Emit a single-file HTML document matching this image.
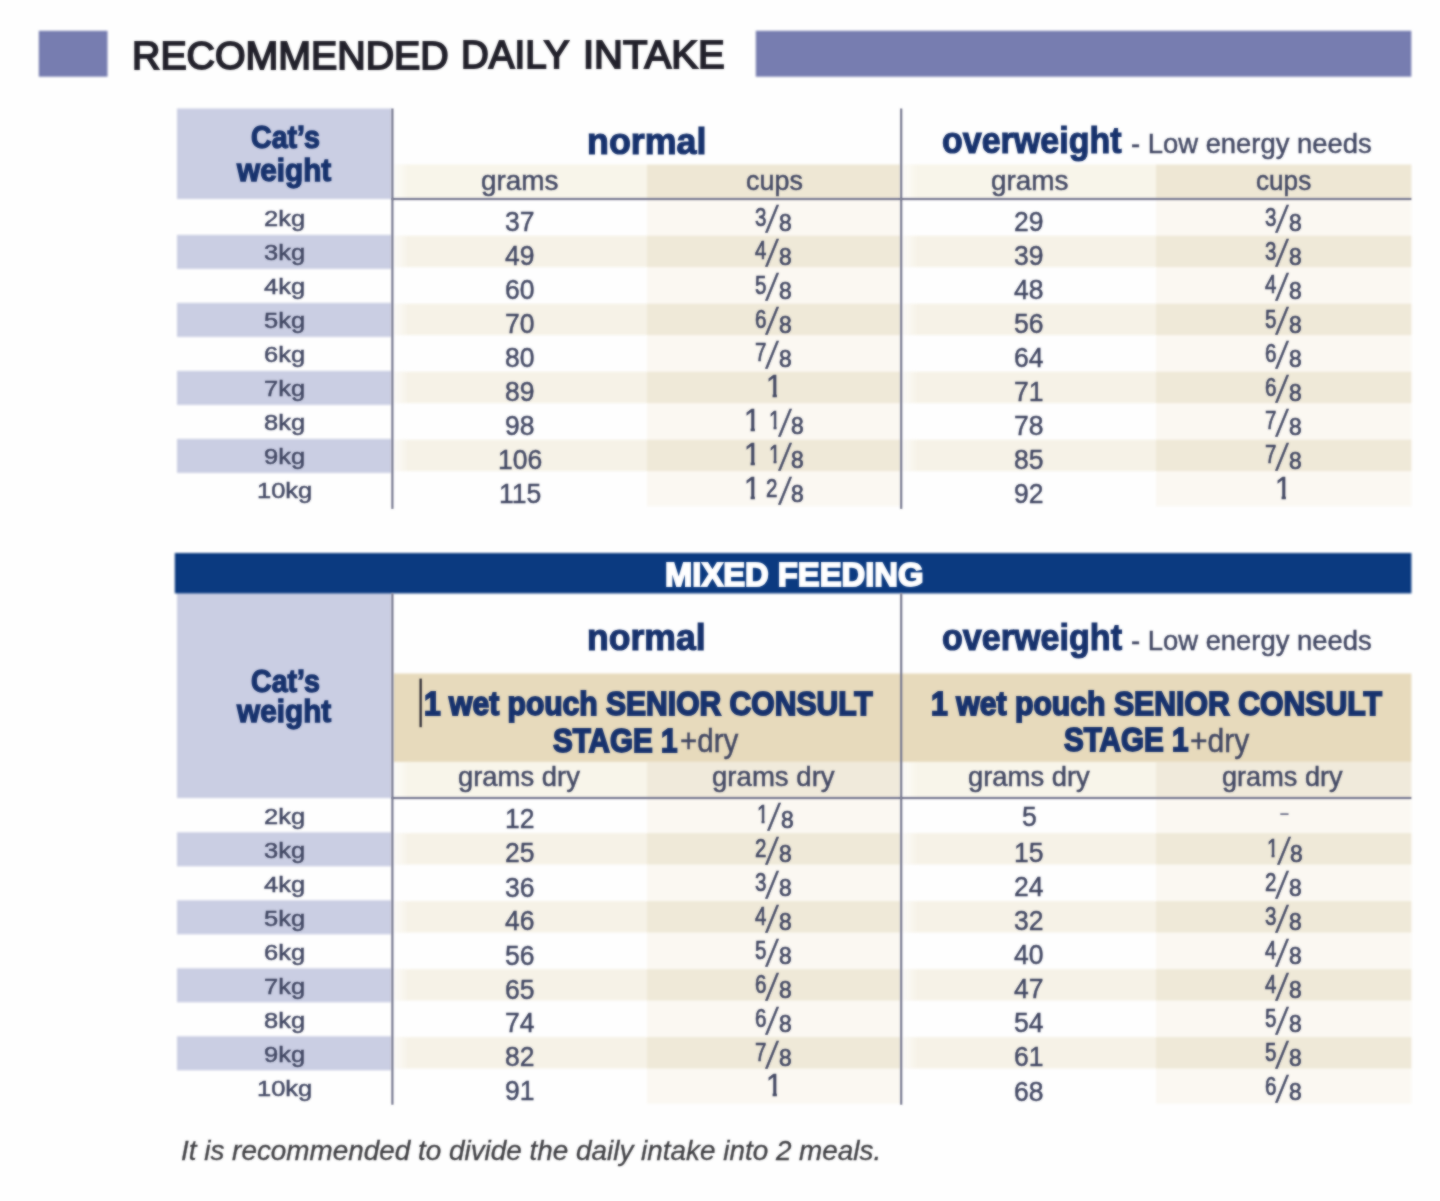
<!DOCTYPE html>
<html lang="en">
<head>
<meta charset="utf-8">
<title>Recommended daily intake</title>
<style>
*{box-sizing:border-box}
html,body{margin:0;padding:0}
body{width:1440px;height:1201px;position:relative;overflow:hidden;background:#fefefe;font-family:"Liberation Sans", sans-serif}
.bg,.ln{position:absolute;left:0;top:0;display:block}
.tx{position:absolute;left:0;top:0;width:1440px;height:1201px}
.one{clip-path:polygon(0 0,100% 0,100% 72.5%,66% 72.5%,66% 100%,40% 100%,40% 72.5%,0 72.5%)}
.t{position:absolute;white-space:nowrap;line-height:1;transform-origin:0 0;margin:0;padding:0}
.title{color:#22212b;-webkit-text-stroke:1.8px}
.h{color:#17326d;-webkit-text-stroke:1.2px}
.b{color:#3f4561;-webkit-text-stroke:0.45px}
.w{color:#fff;-webkit-text-stroke:1.9px}
.note{color:#3c3c40;-webkit-text-stroke:0.3px}
.bg{filter:blur(1px)}
.ln,.tx{filter:url(#soft)}
</style>
</head>
<body>
<svg width="0" height="0" style="position:absolute" aria-hidden="true"><defs><filter id="soft" x="0" y="0" width="100%" height="100%" filterUnits="objectBoundingBox" color-interpolation-filters="sRGB"><feGaussianBlur in="SourceGraphic" stdDeviation="1" result="b"/><feComposite in="SourceGraphic" in2="b" operator="arithmetic" k1="0" k2="0.35" k3="0.65" k4="0"/></filter></defs></svg>
<svg class="bg" width="1440" height="1201" viewBox="0 0 1440 1201" aria-hidden="true"><defs><linearGradient id="gs1" gradientUnits="userSpaceOnUse" x1="393.2" y1="0" x2="409.2" y2="0"><stop offset="0" stop-color="#f8f5ea" stop-opacity="0.25"/><stop offset="1" stop-color="#f8f5ea"/></linearGradient><linearGradient id="gs2" gradientUnits="userSpaceOnUse" x1="902" y1="0" x2="918" y2="0"><stop offset="0" stop-color="#f8f5ea" stop-opacity="0.25"/><stop offset="1" stop-color="#f8f5ea"/></linearGradient><linearGradient id="gr1" gradientUnits="userSpaceOnUse" x1="393.2" y1="0" x2="409.2" y2="0"><stop offset="0" stop-color="#f6f2e7" stop-opacity="0.25"/><stop offset="1" stop-color="#f6f2e7"/></linearGradient><linearGradient id="gr2" gradientUnits="userSpaceOnUse" x1="902" y1="0" x2="918" y2="0"><stop offset="0" stop-color="#f6f2e7" stop-opacity="0.25"/><stop offset="1" stop-color="#f6f2e7"/></linearGradient></defs><rect x="38.8" y="30.8" width="68.7" height="45.9" fill="#777db0"/><rect x="755.8" y="30.8" width="655.5" height="45.9" fill="#777db0"/><rect x="177" y="108.5" width="214.6" height="90.5" fill="#cacee3"/><rect x="393.2" y="164.5" width="253.8" height="34.5" fill="url(#gs1)"/><rect x="647" y="164.5" width="253.6" height="34.5" fill="#eee7d4"/><rect x="902" y="164.5" width="254" height="34.5" fill="url(#gs2)"/><rect x="1156" y="164.5" width="255.4" height="34.5" fill="#eee7d4"/><rect x="647" y="199" width="253.6" height="307.3" fill="#fbf8f2"/><rect x="1156" y="199" width="255.4" height="307.3" fill="#fbf8f2"/><rect x="177" y="234.9" width="214.6" height="34" fill="#cacee3"/><rect x="393.2" y="235.7" width="253.8" height="31.4" fill="url(#gr1)"/><rect x="902" y="235.7" width="254" height="31.4" fill="url(#gr2)"/><rect x="647" y="235.7" width="253.6" height="31.4" fill="#efe9d8"/><rect x="1156" y="235.7" width="255.4" height="31.4" fill="#efe9d8"/><rect x="177" y="302.9" width="214.6" height="34" fill="#cacee3"/><rect x="393.2" y="303.7" width="253.8" height="31.4" fill="url(#gr1)"/><rect x="902" y="303.7" width="254" height="31.4" fill="url(#gr2)"/><rect x="647" y="303.7" width="253.6" height="31.4" fill="#efe9d8"/><rect x="1156" y="303.7" width="255.4" height="31.4" fill="#efe9d8"/><rect x="177" y="370.9" width="214.6" height="34" fill="#cacee3"/><rect x="393.2" y="371.7" width="253.8" height="31.4" fill="url(#gr1)"/><rect x="902" y="371.7" width="254" height="31.4" fill="url(#gr2)"/><rect x="647" y="371.7" width="253.6" height="31.4" fill="#efe9d8"/><rect x="1156" y="371.7" width="255.4" height="31.4" fill="#efe9d8"/><rect x="177" y="438.9" width="214.6" height="34" fill="#cacee3"/><rect x="393.2" y="439.7" width="253.8" height="31.4" fill="url(#gr1)"/><rect x="902" y="439.7" width="254" height="31.4" fill="url(#gr2)"/><rect x="647" y="439.7" width="253.6" height="31.4" fill="#efe9d8"/><rect x="1156" y="439.7" width="255.4" height="31.4" fill="#efe9d8"/><rect x="177" y="593.2" width="214.6" height="204.8" fill="#cacee3"/><rect x="393.2" y="673.5" width="1018.2" height="88.4" fill="#e7dabc"/><rect x="393.2" y="761.9" width="253.8" height="36.1" fill="url(#gs1)"/><rect x="647" y="761.9" width="253.6" height="36.1" fill="#f0eadb"/><rect x="902" y="761.9" width="254" height="36.1" fill="url(#gs2)"/><rect x="1156" y="761.9" width="255.4" height="36.1" fill="#f0eadb"/><rect x="647" y="798" width="253.6" height="305.7" fill="#fbf8f2"/><rect x="1156" y="798" width="255.4" height="305.7" fill="#fbf8f2"/><rect x="177" y="832.3" width="214.6" height="34" fill="#cacee3"/><rect x="393.2" y="833.1" width="253.8" height="31.4" fill="url(#gr1)"/><rect x="902" y="833.1" width="254" height="31.4" fill="url(#gr2)"/><rect x="647" y="833.1" width="253.6" height="31.4" fill="#efe9d8"/><rect x="1156" y="833.1" width="255.4" height="31.4" fill="#efe9d8"/><rect x="177" y="900.3" width="214.6" height="34" fill="#cacee3"/><rect x="393.2" y="901.1" width="253.8" height="31.4" fill="url(#gr1)"/><rect x="902" y="901.1" width="254" height="31.4" fill="url(#gr2)"/><rect x="647" y="901.1" width="253.6" height="31.4" fill="#efe9d8"/><rect x="1156" y="901.1" width="255.4" height="31.4" fill="#efe9d8"/><rect x="177" y="968.3" width="214.6" height="34" fill="#cacee3"/><rect x="393.2" y="969.1" width="253.8" height="31.4" fill="url(#gr1)"/><rect x="902" y="969.1" width="254" height="31.4" fill="url(#gr2)"/><rect x="647" y="969.1" width="253.6" height="31.4" fill="#efe9d8"/><rect x="1156" y="969.1" width="255.4" height="31.4" fill="#efe9d8"/><rect x="177" y="1036.3" width="214.6" height="34" fill="#cacee3"/><rect x="393.2" y="1037.1" width="253.8" height="31.4" fill="url(#gr1)"/><rect x="902" y="1037.1" width="254" height="31.4" fill="url(#gr2)"/><rect x="647" y="1037.1" width="253.6" height="31.4" fill="#efe9d8"/><rect x="1156" y="1037.1" width="255.4" height="31.4" fill="#efe9d8"/><rect x="174.8" y="553" width="1236.6" height="40.4" fill="#0b3a80"/></svg>
<svg class="ln" width="1440" height="1201" viewBox="0 0 1440 1201" aria-hidden="true"><rect x="391.3" y="108.5" width="2.2" height="400.4" fill="#787a91"/><rect x="900.1" y="108.5" width="2.2" height="400.4" fill="#787a91"/><rect x="391.3" y="197.9" width="1020.1" height="2.2" fill="#787a91"/><rect x="391.3" y="593.2" width="2.2" height="511.5" fill="#787a91"/><rect x="900.1" y="593.2" width="2.2" height="511.5" fill="#787a91"/><rect x="391.3" y="796.9" width="1020.1" height="2.2" fill="#787a91"/><rect x="419.5" y="678.6" width="2.3" height="48.6" fill="#2b2a33"/></svg>
<main class="tx">
<header><h1 style="margin:0;font:inherit"><span class="t title" style="left:131.51px;top:37.01px;font-size:38.5px;transform:scaleX(1.0210);">RECOMMENDED</span> <span class="t title" style="left:460.93px;top:36.41px;font-size:38.5px;transform:scaleX(0.9999);">DAILY</span> <span class="t title" style="left:582.67px;top:36.41px;font-size:38.5px;transform:scaleX(1.0395);">INTAKE</span></h1></header>
<section class="table t1">
<div class="row head"><div class="cell"><span class="t h" style="left:251.08px;top:122.1px;font-size:30.5px;font-weight:700;transform:scaleX(0.9385);-webkit-text-stroke-width:1.3px;">Cat’s</span> <span class="t h" style="left:237.07px;top:155.45px;font-size:30.5px;font-weight:700;transform:scaleX(0.9756);-webkit-text-stroke-width:1.3px;">weight</span></div> <div class="cell"><span class="t h" style="left:586.73px;top:123.17px;font-size:37px;font-weight:700;transform:scaleX(0.9680);">normal</span></div> <div class="cell"><span class="t h" style="left:942.26px;top:122.25px;font-size:37px;font-weight:700;transform:scaleX(0.9191);">overweight</span> <span class="t b" style="left:1131.34px;top:129.17px;font-size:28.5px;transform:scaleX(0.9616);">- Low energy needs</span></div></div>
<div class="row sub"><div class="cell"><span class="t b" style="left:481.16px;top:166.8px;font-size:28px;transform:scaleX(0.9965);">grams</span></div> <div class="cell"><span class="t b" style="left:746.01px;top:166.77px;font-size:28px;transform:scaleX(0.9609);">cups</span></div> <div class="cell"><span class="t b" style="left:991.23px;top:166.91px;font-size:28px;transform:scaleX(0.9962);">grams</span></div> <div class="cell"><span class="t b" style="left:1256.24px;top:166.77px;font-size:28px;transform:scaleX(0.9333);">cups</span></div> </div>
<div class="row"><div class="cell"><span class="t b" style="left:263.74px;top:208.45px;font-size:21.8px;transform:scaleX(1.1700);">2kg</span></div> <div class="cell"><span class="t b" style="left:505.36px;top:207.03px;font-size:28.2px;transform:scaleX(0.9400);">37</span></div> <div class="cell"><span class="t b" style="left:754.83px;top:205.21px;font-size:25px;transform:scaleX(0.8200);-webkit-text-stroke-width:0.7px;">3</span><span class="t b" style="left:772.2px;top:201.93px;font-size:27px;transform:skewX(-12deg) scale(1.0000,1.3800);-webkit-text-stroke-width:0.4px;">/</span><span class="t b" style="left:778.97px;top:211.03px;font-size:24px;transform:scaleX(0.9500);-webkit-text-stroke-width:0.7px;">8</span></div> <div class="cell"><span class="t b" style="left:1014.26px;top:207.03px;font-size:28.2px;transform:scaleX(0.9400);">29</span></div> <div class="cell"><span class="t b" style="left:1264.63px;top:205.21px;font-size:25px;transform:scaleX(0.8200);-webkit-text-stroke-width:0.7px;">3</span><span class="t b" style="left:1282px;top:201.93px;font-size:27px;transform:skewX(-12deg) scale(1.0000,1.3800);-webkit-text-stroke-width:0.4px;">/</span><span class="t b" style="left:1288.77px;top:211.03px;font-size:24px;transform:scaleX(0.9500);-webkit-text-stroke-width:0.7px;">8</span></div> </div>
<div class="row"><div class="cell"><span class="t b" style="left:263.74px;top:242.45px;font-size:21.8px;transform:scaleX(1.1700);">3kg</span></div> <div class="cell"><span class="t b" style="left:505.36px;top:241.03px;font-size:28.2px;transform:scaleX(0.9400);">49</span></div> <div class="cell"><span class="t b" style="left:755.31px;top:238.44px;font-size:25px;transform:scaleX(0.8200);-webkit-text-stroke-width:0.7px;">4</span><span class="t b" style="left:772.2px;top:235.93px;font-size:27px;transform:skewX(-12deg) scale(1.0000,1.3800);-webkit-text-stroke-width:0.4px;">/</span><span class="t b" style="left:778.97px;top:245.03px;font-size:24px;transform:scaleX(0.9500);-webkit-text-stroke-width:0.7px;">8</span></div> <div class="cell"><span class="t b" style="left:1014.26px;top:241.03px;font-size:28.2px;transform:scaleX(0.9400);">39</span></div> <div class="cell"><span class="t b" style="left:1264.63px;top:239.21px;font-size:25px;transform:scaleX(0.8200);-webkit-text-stroke-width:0.7px;">3</span><span class="t b" style="left:1282px;top:235.93px;font-size:27px;transform:skewX(-12deg) scale(1.0000,1.3800);-webkit-text-stroke-width:0.4px;">/</span><span class="t b" style="left:1288.77px;top:245.03px;font-size:24px;transform:scaleX(0.9500);-webkit-text-stroke-width:0.7px;">8</span></div> </div>
<div class="row"><div class="cell"><span class="t b" style="left:263.74px;top:276.45px;font-size:21.8px;transform:scaleX(1.1700);">4kg</span></div> <div class="cell"><span class="t b" style="left:505.36px;top:275.03px;font-size:28.2px;transform:scaleX(0.9400);">60</span></div> <div class="cell"><span class="t b" style="left:754.83px;top:273.18px;font-size:25px;transform:scaleX(0.8200);-webkit-text-stroke-width:0.7px;">5</span><span class="t b" style="left:772.2px;top:269.93px;font-size:27px;transform:skewX(-12deg) scale(1.0000,1.3800);-webkit-text-stroke-width:0.4px;">/</span><span class="t b" style="left:778.97px;top:279.03px;font-size:24px;transform:scaleX(0.9500);-webkit-text-stroke-width:0.7px;">8</span></div> <div class="cell"><span class="t b" style="left:1014.26px;top:275.03px;font-size:28.2px;transform:scaleX(0.9400);">48</span></div> <div class="cell"><span class="t b" style="left:1265.21px;top:272.44px;font-size:25px;transform:scaleX(0.8200);-webkit-text-stroke-width:0.7px;">4</span><span class="t b" style="left:1282px;top:269.93px;font-size:27px;transform:skewX(-12deg) scale(1.0000,1.3800);-webkit-text-stroke-width:0.4px;">/</span><span class="t b" style="left:1288.77px;top:279.03px;font-size:24px;transform:scaleX(0.9500);-webkit-text-stroke-width:0.7px;">8</span></div> </div>
<div class="row"><div class="cell"><span class="t b" style="left:263.74px;top:310.45px;font-size:21.8px;transform:scaleX(1.1700);">5kg</span></div> <div class="cell"><span class="t b" style="left:505.36px;top:309.03px;font-size:28.2px;transform:scaleX(0.9400);">70</span></div> <div class="cell"><span class="t b" style="left:754.83px;top:307.26px;font-size:25px;transform:scaleX(0.8200);-webkit-text-stroke-width:0.7px;">6</span><span class="t b" style="left:772.2px;top:303.93px;font-size:27px;transform:skewX(-12deg) scale(1.0000,1.3800);-webkit-text-stroke-width:0.4px;">/</span><span class="t b" style="left:778.97px;top:313.03px;font-size:24px;transform:scaleX(0.9500);-webkit-text-stroke-width:0.7px;">8</span></div> <div class="cell"><span class="t b" style="left:1014.26px;top:309.03px;font-size:28.2px;transform:scaleX(0.9400);">56</span></div> <div class="cell"><span class="t b" style="left:1264.63px;top:307.18px;font-size:25px;transform:scaleX(0.8200);-webkit-text-stroke-width:0.7px;">5</span><span class="t b" style="left:1282px;top:303.93px;font-size:27px;transform:skewX(-12deg) scale(1.0000,1.3800);-webkit-text-stroke-width:0.4px;">/</span><span class="t b" style="left:1288.77px;top:313.03px;font-size:24px;transform:scaleX(0.9500);-webkit-text-stroke-width:0.7px;">8</span></div> </div>
<div class="row"><div class="cell"><span class="t b" style="left:263.74px;top:344.45px;font-size:21.8px;transform:scaleX(1.1700);">6kg</span></div> <div class="cell"><span class="t b" style="left:505.36px;top:343.03px;font-size:28.2px;transform:scaleX(0.9400);">80</span></div> <div class="cell"><span class="t b" style="left:755.03px;top:340.14px;font-size:25px;transform:scaleX(0.8200);-webkit-text-stroke-width:0.7px;">7</span><span class="t b" style="left:772.2px;top:337.93px;font-size:27px;transform:skewX(-12deg) scale(1.0000,1.3800);-webkit-text-stroke-width:0.4px;">/</span><span class="t b" style="left:778.97px;top:347.03px;font-size:24px;transform:scaleX(0.9500);-webkit-text-stroke-width:0.7px;">8</span></div> <div class="cell"><span class="t b" style="left:1014.26px;top:343.03px;font-size:28.2px;transform:scaleX(0.9400);">64</span></div> <div class="cell"><span class="t b" style="left:1264.63px;top:341.26px;font-size:25px;transform:scaleX(0.8200);-webkit-text-stroke-width:0.7px;">6</span><span class="t b" style="left:1282px;top:337.93px;font-size:27px;transform:skewX(-12deg) scale(1.0000,1.3800);-webkit-text-stroke-width:0.4px;">/</span><span class="t b" style="left:1288.77px;top:347.03px;font-size:24px;transform:scaleX(0.9500);-webkit-text-stroke-width:0.7px;">8</span></div> </div>
<div class="row"><div class="cell"><span class="t b" style="left:263.74px;top:378.45px;font-size:21.8px;transform:scaleX(1.1700);">7kg</span></div> <div class="cell"><span class="t b" style="left:505.36px;top:377.03px;font-size:28.2px;transform:scaleX(0.9400);">89</span></div> <div class="cell"><span class="t b one" style="left:765.57px;top:370.64px;font-size:31.5px;transform:scaleX(0.9400);">1</span></div> <div class="cell"><span class="t b" style="left:1014.26px;top:377.03px;font-size:28.2px;transform:scaleX(0.9400);">71</span></div> <div class="cell"><span class="t b" style="left:1264.63px;top:375.26px;font-size:25px;transform:scaleX(0.8200);-webkit-text-stroke-width:0.7px;">6</span><span class="t b" style="left:1282px;top:371.93px;font-size:27px;transform:skewX(-12deg) scale(1.0000,1.3800);-webkit-text-stroke-width:0.4px;">/</span><span class="t b" style="left:1288.77px;top:381.03px;font-size:24px;transform:scaleX(0.9500);-webkit-text-stroke-width:0.7px;">8</span></div> </div>
<div class="row"><div class="cell"><span class="t b" style="left:263.74px;top:412.45px;font-size:21.8px;transform:scaleX(1.1700);">8kg</span></div> <div class="cell"><span class="t b" style="left:505.36px;top:411.03px;font-size:28.2px;transform:scaleX(0.9400);">98</span></div> <div class="cell"><span class="t b one" style="left:744.13px;top:404.68px;font-size:31.5px;transform:scaleX(0.9400);">1</span> <span class="t b one" style="left:768.76px;top:407.74px;font-size:25px;transform:scaleX(0.8200);-webkit-text-stroke-width:0.7px;">1</span><span class="t b" style="left:784.8px;top:406.15px;font-size:27px;transform:skewX(-12deg) scale(1.0000,1.3800);-webkit-text-stroke-width:0.4px;">/</span><span class="t b" style="left:791.15px;top:414.38px;font-size:24px;transform:scaleX(0.9500);-webkit-text-stroke-width:0.7px;">8</span></div> <div class="cell"><span class="t b" style="left:1014.26px;top:411.03px;font-size:28.2px;transform:scaleX(0.9400);">78</span></div> <div class="cell"><span class="t b" style="left:1264.73px;top:408.14px;font-size:25px;transform:scaleX(0.8200);-webkit-text-stroke-width:0.7px;">7</span><span class="t b" style="left:1282px;top:405.93px;font-size:27px;transform:skewX(-12deg) scale(1.0000,1.3800);-webkit-text-stroke-width:0.4px;">/</span><span class="t b" style="left:1288.77px;top:415.03px;font-size:24px;transform:scaleX(0.9500);-webkit-text-stroke-width:0.7px;">8</span></div> </div>
<div class="row"><div class="cell"><span class="t b" style="left:263.74px;top:446.45px;font-size:21.8px;transform:scaleX(1.1700);">9kg</span></div> <div class="cell"><span class="t b" style="left:497.99px;top:445.03px;font-size:28.2px;transform:scaleX(0.9400);">106</span></div> <div class="cell"><span class="t b one" style="left:744.13px;top:438.68px;font-size:31.5px;transform:scaleX(0.9400);">1</span> <span class="t b one" style="left:768.76px;top:441.74px;font-size:25px;transform:scaleX(0.8200);-webkit-text-stroke-width:0.7px;">1</span><span class="t b" style="left:784.8px;top:440.15px;font-size:27px;transform:skewX(-12deg) scale(1.0000,1.3800);-webkit-text-stroke-width:0.4px;">/</span><span class="t b" style="left:791.15px;top:448.38px;font-size:24px;transform:scaleX(0.9500);-webkit-text-stroke-width:0.7px;">8</span></div> <div class="cell"><span class="t b" style="left:1014.26px;top:445.03px;font-size:28.2px;transform:scaleX(0.9400);">85</span></div> <div class="cell"><span class="t b" style="left:1264.73px;top:442.14px;font-size:25px;transform:scaleX(0.8200);-webkit-text-stroke-width:0.7px;">7</span><span class="t b" style="left:1282px;top:439.93px;font-size:27px;transform:skewX(-12deg) scale(1.0000,1.3800);-webkit-text-stroke-width:0.4px;">/</span><span class="t b" style="left:1288.77px;top:449.03px;font-size:24px;transform:scaleX(0.9500);-webkit-text-stroke-width:0.7px;">8</span></div> </div>
<div class="row"><div class="cell"><span class="t b" style="left:256.65px;top:480.45px;font-size:21.8px;transform:scaleX(1.1700);">10kg</span></div> <div class="cell"><span class="t b" style="left:498.97px;top:479.03px;font-size:28.2px;transform:scaleX(0.9400);">115</span></div> <div class="cell"><span class="t b one" style="left:744.13px;top:472.68px;font-size:31.5px;transform:scaleX(0.9400);">1</span> <span class="t b" style="left:766.23px;top:475.64px;font-size:25px;transform:scaleX(0.8200);-webkit-text-stroke-width:0.7px;">2</span><span class="t b" style="left:784.8px;top:474.15px;font-size:27px;transform:skewX(-12deg) scale(1.0000,1.3800);-webkit-text-stroke-width:0.4px;">/</span><span class="t b" style="left:791.15px;top:482.38px;font-size:24px;transform:scaleX(0.9500);-webkit-text-stroke-width:0.7px;">8</span></div> <div class="cell"><span class="t b" style="left:1014.26px;top:479.03px;font-size:28.2px;transform:scaleX(0.9400);">92</span></div> <div class="cell"><span class="t b one" style="left:1275.47px;top:472.64px;font-size:31.5px;transform:scaleX(0.9400);">1</span></div> </div>
</section>
<section class="table t2">
<div class="caption"><span class="t w" style="left:664.94px;top:557.18px;font-size:34px;font-weight:700;transform:scaleX(0.9634);color:#ffffff;">MIXED FEEDING</span></div>
<div class="row head"><div class="cell"><span class="t h" style="left:251.08px;top:665.54px;font-size:30.5px;font-weight:700;transform:scaleX(0.9385);-webkit-text-stroke-width:1.3px;">Cat’s</span> <span class="t h" style="left:237.07px;top:696.05px;font-size:30.5px;font-weight:700;transform:scaleX(0.9756);-webkit-text-stroke-width:1.3px;">weight</span></div> <div class="cell"><span class="t h" style="left:587.36px;top:618.77px;font-size:37px;font-weight:700;transform:scaleX(0.9612);">normal</span> <span class="t h" style="left:423.51px;top:687.1px;font-size:33.5px;font-weight:700;transform:scaleX(0.8972);-webkit-text-stroke-width:1.8px;">1 wet pouch SENIOR CONSULT</span> <span class="t h" style="left:552.59px;top:723.69px;font-size:33.5px;font-weight:700;transform:scaleX(0.8831);-webkit-text-stroke-width:1.8px;">STAGE 1</span><span class="t b" style="left:679.8px;top:724.04px;font-size:33px;transform:scaleX(0.8943);">+dry</span></div> <div class="cell"><span class="t h" style="left:942.24px;top:618.72px;font-size:37px;font-weight:700;transform:scaleX(0.9215);">overweight</span> <span class="t b" style="left:1131.34px;top:625.67px;font-size:28.5px;transform:scaleX(0.9616);">- Low energy needs</span> <span class="t h" style="left:931.01px;top:687.1px;font-size:33.5px;font-weight:700;transform:scaleX(0.9017);-webkit-text-stroke-width:1.8px;">1 wet pouch SENIOR CONSULT</span> <span class="t h" style="left:1063.56px;top:723.17px;font-size:33.5px;font-weight:700;transform:scaleX(0.8828);-webkit-text-stroke-width:1.8px;">STAGE 1</span><span class="t b" style="left:1189.58px;top:724.01px;font-size:33px;transform:scaleX(0.9116);">+dry</span></div></div>
<div class="row sub"><div class="cell"><span class="t b" style="left:458.14px;top:762.7px;font-size:28px;transform:scaleX(0.9790);">grams dry</span></div> <div class="cell"><span class="t b" style="left:712.14px;top:762.7px;font-size:28px;transform:scaleX(0.9855);">grams dry</span></div> <div class="cell"><span class="t b" style="left:967.84px;top:762.7px;font-size:28px;transform:scaleX(0.9782);">grams dry</span></div> <div class="cell"><span class="t b" style="left:1222.45px;top:762.7px;font-size:28px;transform:scaleX(0.9685);">grams dry</span></div> </div>
<div class="row"><div class="cell"><span class="t b" style="left:263.74px;top:805.85px;font-size:21.8px;transform:scaleX(1.1700);">2kg</span></div> <div class="cell"><span class="t b" style="left:505.36px;top:804.43px;font-size:28.2px;transform:scaleX(0.9400);">12</span></div> <div class="cell"><span class="t b one" style="left:756.83px;top:801.59px;font-size:25px;transform:scaleX(0.8200);-webkit-text-stroke-width:0.7px;">1</span><span class="t b" style="left:774px;top:799.66px;font-size:27px;transform:skewX(-12deg) scale(1.0000,1.3800);-webkit-text-stroke-width:0.4px;">/</span><span class="t b" style="left:780.59px;top:807.68px;font-size:24px;transform:scaleX(0.9500);-webkit-text-stroke-width:0.7px;">8</span></div> <div class="cell"><span class="t b" style="left:1021.63px;top:801.73px;font-size:28.2px;transform:scaleX(0.9400);">5</span></div> <div class="cell"><span class="t b" style="left:1279.29px;top:801.98px;font-size:28.2px;transform:scale(1.1500,0.7500);-webkit-text-stroke-width:0.2px;color:#6c6f88;">-</span></div> </div>
<div class="row"><div class="cell"><span class="t b" style="left:263.74px;top:839.85px;font-size:21.8px;transform:scaleX(1.1700);">3kg</span></div> <div class="cell"><span class="t b" style="left:505.36px;top:838.43px;font-size:28.2px;transform:scaleX(0.9400);">25</span></div> <div class="cell"><span class="t b" style="left:754.83px;top:835.59px;font-size:25px;transform:scaleX(0.8200);-webkit-text-stroke-width:0.7px;">2</span><span class="t b" style="left:772.2px;top:833.73px;font-size:27px;transform:skewX(-12deg) scale(1.0000,1.3800);-webkit-text-stroke-width:0.4px;">/</span><span class="t b" style="left:778.99px;top:841.68px;font-size:24px;transform:scaleX(0.9500);-webkit-text-stroke-width:0.7px;">8</span></div> <div class="cell"><span class="t b" style="left:1014.26px;top:838.43px;font-size:28.2px;transform:scaleX(0.9400);">15</span></div> <div class="cell"><span class="t b one" style="left:1266.63px;top:835.59px;font-size:25px;transform:scaleX(0.8200);-webkit-text-stroke-width:0.7px;">1</span><span class="t b" style="left:1284.4px;top:833.73px;font-size:27px;transform:skewX(-12deg) scale(1.0000,1.3800);-webkit-text-stroke-width:0.4px;">/</span><span class="t b" style="left:1290.49px;top:841.68px;font-size:24px;transform:scaleX(0.9500);-webkit-text-stroke-width:0.7px;">8</span></div> </div>
<div class="row"><div class="cell"><span class="t b" style="left:263.74px;top:873.85px;font-size:21.8px;transform:scaleX(1.1700);">4kg</span></div> <div class="cell"><span class="t b" style="left:505.36px;top:872.95px;font-size:28.2px;transform:scaleX(0.9400);">36</span></div> <div class="cell"><span class="t b" style="left:754.83px;top:870.01px;font-size:25px;transform:scaleX(0.8200);-webkit-text-stroke-width:0.7px;">3</span><span class="t b" style="left:772.2px;top:867.73px;font-size:27px;transform:skewX(-12deg) scale(1.0000,1.3800);-webkit-text-stroke-width:0.4px;">/</span><span class="t b" style="left:778.99px;top:875.68px;font-size:24px;transform:scaleX(0.9500);-webkit-text-stroke-width:0.7px;">8</span></div> <div class="cell"><span class="t b" style="left:1014.26px;top:872.43px;font-size:28.2px;transform:scaleX(0.9400);">24</span></div> <div class="cell"><span class="t b" style="left:1264.63px;top:869.59px;font-size:25px;transform:scaleX(0.8200);-webkit-text-stroke-width:0.7px;">2</span><span class="t b" style="left:1282px;top:867.73px;font-size:27px;transform:skewX(-12deg) scale(1.0000,1.3800);-webkit-text-stroke-width:0.4px;">/</span><span class="t b" style="left:1288.89px;top:875.68px;font-size:24px;transform:scaleX(0.9500);-webkit-text-stroke-width:0.7px;">8</span></div> </div>
<div class="row"><div class="cell"><span class="t b" style="left:263.74px;top:907.85px;font-size:21.8px;transform:scaleX(1.1700);">5kg</span></div> <div class="cell"><span class="t b" style="left:505.36px;top:906.43px;font-size:28.2px;transform:scaleX(0.9400);">46</span></div> <div class="cell"><span class="t b" style="left:755.31px;top:903.84px;font-size:25px;transform:scaleX(0.8200);-webkit-text-stroke-width:0.7px;">4</span><span class="t b" style="left:772.2px;top:901.73px;font-size:27px;transform:skewX(-12deg) scale(1.0000,1.3800);-webkit-text-stroke-width:0.4px;">/</span><span class="t b" style="left:778.99px;top:909.68px;font-size:24px;transform:scaleX(0.9500);-webkit-text-stroke-width:0.7px;">8</span></div> <div class="cell"><span class="t b" style="left:1014.26px;top:906.43px;font-size:28.2px;transform:scaleX(0.9400);">32</span></div> <div class="cell"><span class="t b" style="left:1264.63px;top:904.01px;font-size:25px;transform:scaleX(0.8200);-webkit-text-stroke-width:0.7px;">3</span><span class="t b" style="left:1282px;top:901.73px;font-size:27px;transform:skewX(-12deg) scale(1.0000,1.3800);-webkit-text-stroke-width:0.4px;">/</span><span class="t b" style="left:1288.89px;top:909.68px;font-size:24px;transform:scaleX(0.9500);-webkit-text-stroke-width:0.7px;">8</span></div> </div>
<div class="row"><div class="cell"><span class="t b" style="left:263.74px;top:941.85px;font-size:21.8px;transform:scaleX(1.1700);">6kg</span></div> <div class="cell"><span class="t b" style="left:505.36px;top:940.97px;font-size:28.2px;transform:scaleX(0.9400);">56</span></div> <div class="cell"><span class="t b" style="left:754.83px;top:937.98px;font-size:25px;transform:scaleX(0.8200);-webkit-text-stroke-width:0.7px;">5</span><span class="t b" style="left:772.2px;top:935.73px;font-size:27px;transform:skewX(-12deg) scale(1.0000,1.3800);-webkit-text-stroke-width:0.4px;">/</span><span class="t b" style="left:778.99px;top:943.68px;font-size:24px;transform:scaleX(0.9500);-webkit-text-stroke-width:0.7px;">8</span></div> <div class="cell"><span class="t b" style="left:1014.26px;top:940.43px;font-size:28.2px;transform:scaleX(0.9400);">40</span></div> <div class="cell"><span class="t b" style="left:1265.21px;top:937.84px;font-size:25px;transform:scaleX(0.8200);-webkit-text-stroke-width:0.7px;">4</span><span class="t b" style="left:1282px;top:935.73px;font-size:27px;transform:skewX(-12deg) scale(1.0000,1.3800);-webkit-text-stroke-width:0.4px;">/</span><span class="t b" style="left:1288.89px;top:943.68px;font-size:24px;transform:scaleX(0.9500);-webkit-text-stroke-width:0.7px;">8</span></div> </div>
<div class="row"><div class="cell"><span class="t b" style="left:263.74px;top:975.85px;font-size:21.8px;transform:scaleX(1.1700);">7kg</span></div> <div class="cell"><span class="t b" style="left:505.36px;top:974.96px;font-size:28.2px;transform:scaleX(0.9400);">65</span></div> <div class="cell"><span class="t b" style="left:754.83px;top:972.06px;font-size:25px;transform:scaleX(0.8200);-webkit-text-stroke-width:0.7px;">6</span><span class="t b" style="left:772.2px;top:969.73px;font-size:27px;transform:skewX(-12deg) scale(1.0000,1.3800);-webkit-text-stroke-width:0.4px;">/</span><span class="t b" style="left:778.99px;top:977.68px;font-size:24px;transform:scaleX(0.9500);-webkit-text-stroke-width:0.7px;">8</span></div> <div class="cell"><span class="t b" style="left:1014.26px;top:974.43px;font-size:28.2px;transform:scaleX(0.9400);">47</span></div> <div class="cell"><span class="t b" style="left:1265.21px;top:971.84px;font-size:25px;transform:scaleX(0.8200);-webkit-text-stroke-width:0.7px;">4</span><span class="t b" style="left:1282px;top:969.73px;font-size:27px;transform:skewX(-12deg) scale(1.0000,1.3800);-webkit-text-stroke-width:0.4px;">/</span><span class="t b" style="left:1288.89px;top:977.68px;font-size:24px;transform:scaleX(0.9500);-webkit-text-stroke-width:0.7px;">8</span></div> </div>
<div class="row"><div class="cell"><span class="t b" style="left:263.74px;top:1009.85px;font-size:21.8px;transform:scaleX(1.1700);">8kg</span></div> <div class="cell"><span class="t b" style="left:505.36px;top:1008.43px;font-size:28.2px;transform:scaleX(0.9400);">74</span></div> <div class="cell"><span class="t b" style="left:754.83px;top:1006.06px;font-size:25px;transform:scaleX(0.8200);-webkit-text-stroke-width:0.7px;">6</span><span class="t b" style="left:772.2px;top:1003.73px;font-size:27px;transform:skewX(-12deg) scale(1.0000,1.3800);-webkit-text-stroke-width:0.4px;">/</span><span class="t b" style="left:778.99px;top:1011.68px;font-size:24px;transform:scaleX(0.9500);-webkit-text-stroke-width:0.7px;">8</span></div> <div class="cell"><span class="t b" style="left:1014.26px;top:1008.43px;font-size:28.2px;transform:scaleX(0.9400);">54</span></div> <div class="cell"><span class="t b" style="left:1264.63px;top:1005.98px;font-size:25px;transform:scaleX(0.8200);-webkit-text-stroke-width:0.7px;">5</span><span class="t b" style="left:1282px;top:1003.73px;font-size:27px;transform:skewX(-12deg) scale(1.0000,1.3800);-webkit-text-stroke-width:0.4px;">/</span><span class="t b" style="left:1288.89px;top:1011.68px;font-size:24px;transform:scaleX(0.9500);-webkit-text-stroke-width:0.7px;">8</span></div> </div>
<div class="row"><div class="cell"><span class="t b" style="left:263.74px;top:1043.85px;font-size:21.8px;transform:scaleX(1.1700);">9kg</span></div> <div class="cell"><span class="t b" style="left:505.36px;top:1042.43px;font-size:28.2px;transform:scaleX(0.9400);">82</span></div> <div class="cell"><span class="t b" style="left:754.83px;top:1039.59px;font-size:25px;transform:scaleX(0.8200);-webkit-text-stroke-width:0.7px;">7</span><span class="t b" style="left:772.2px;top:1037.73px;font-size:27px;transform:skewX(-12deg) scale(1.0000,1.3800);-webkit-text-stroke-width:0.4px;">/</span><span class="t b" style="left:778.99px;top:1045.68px;font-size:24px;transform:scaleX(0.9500);-webkit-text-stroke-width:0.7px;">8</span></div> <div class="cell"><span class="t b" style="left:1014.26px;top:1042.43px;font-size:28.2px;transform:scaleX(0.9400);">61</span></div> <div class="cell"><span class="t b" style="left:1264.63px;top:1039.98px;font-size:25px;transform:scaleX(0.8200);-webkit-text-stroke-width:0.7px;">5</span><span class="t b" style="left:1282px;top:1037.73px;font-size:27px;transform:skewX(-12deg) scale(1.0000,1.3800);-webkit-text-stroke-width:0.4px;">/</span><span class="t b" style="left:1288.89px;top:1045.68px;font-size:24px;transform:scaleX(0.9500);-webkit-text-stroke-width:0.7px;">8</span></div> </div>
<div class="row"><div class="cell"><span class="t b" style="left:256.65px;top:1077.85px;font-size:21.8px;transform:scaleX(1.1700);">10kg</span></div> <div class="cell"><span class="t b" style="left:505.36px;top:1076.43px;font-size:28.2px;transform:scaleX(0.9400);">91</span></div> <div class="cell"><span class="t b one" style="left:765.57px;top:1070.04px;font-size:31.5px;transform:scaleX(0.9400);">1</span></div> <div class="cell"><span class="t b" style="left:1014.26px;top:1076.98px;font-size:28.2px;transform:scaleX(0.9400);">68</span></div> <div class="cell"><span class="t b" style="left:1264.63px;top:1074.06px;font-size:25px;transform:scaleX(0.8200);-webkit-text-stroke-width:0.7px;">6</span><span class="t b" style="left:1282px;top:1071.73px;font-size:27px;transform:skewX(-12deg) scale(1.0000,1.3800);-webkit-text-stroke-width:0.4px;">/</span><span class="t b" style="left:1288.89px;top:1079.68px;font-size:24px;transform:scaleX(0.9500);-webkit-text-stroke-width:0.7px;">8</span></div> </div>
</section>
<footer><span class="t note" style="left:180.96px;top:1135.65px;font-size:28.5px;font-style:italic;transform:scaleX(0.9779);">It is recommended to divide the daily intake into 2 meals.</span></footer>
</main>
</body>
</html>
